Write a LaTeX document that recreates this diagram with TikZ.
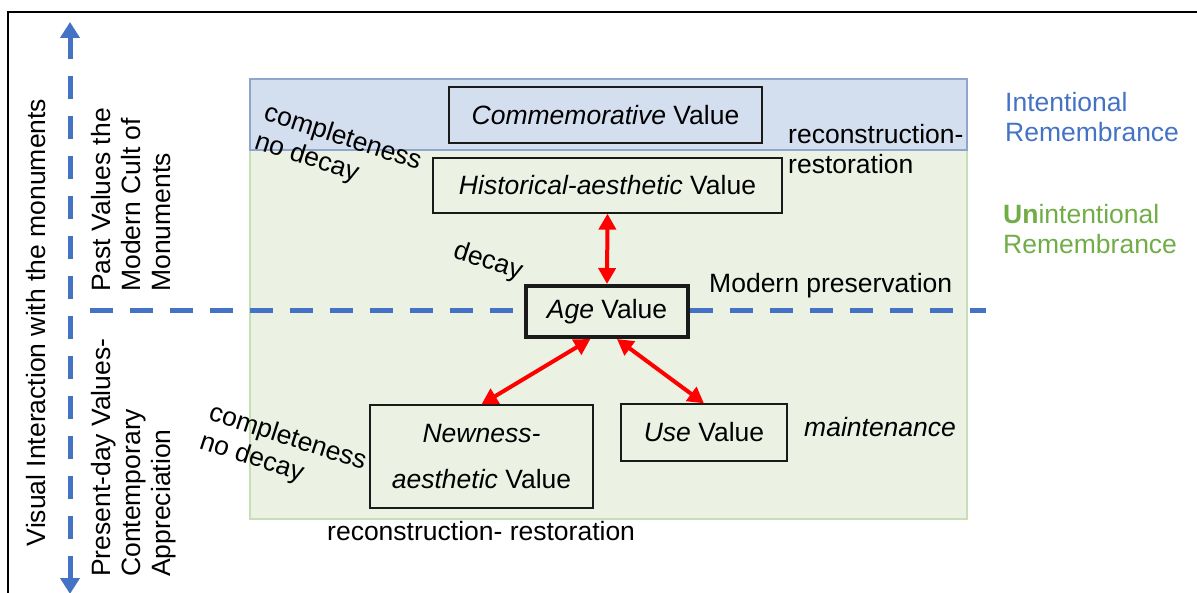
\documentclass[tikz,border=0pt]{standalone}
\usepackage{fontspec}
\setmainfont{Liberation Sans}
\usetikzlibrary{arrows.meta,calc}
\definecolor{ublue}{HTML}{4472C4}
\definecolor{ugreen}{HTML}{70AD47}
\definecolor{bfill}{HTML}{D3DEEF}
\definecolor{bline}{HTML}{8EA6CB}
\definecolor{gfill}{HTML}{EBF2E4}
\definecolor{gline}{HTML}{C6DFB4}
\definecolor{boxline}{HTML}{1A1A1A}
\tikzset{
  bluedash/.style={draw=ublue, line width=5pt, dash pattern=on 23pt off 17pt},
  valbox/.style={draw=boxline, line width=1.3pt, inner sep=0pt, align=center},
  redarrow/.style={draw=red, line width=4pt, {Triangle[length=16pt,width=17pt]}-{Triangle[length=16pt,width=17pt]}},
  lbl/.style={inner sep=0pt, align=left},
}
\begin{document}
\begin{tikzpicture}[x=1pt,y=-1pt, font=\fontsize{26.5}{30}\selectfont]
\useasboundingbox (0,0) rectangle (1197,593);
% frame
\draw[line width=1.2pt] (8,593) -- (8,12) -- (1197,12);
% regions
\fill[gfill] (250,150) rectangle (967,519);
\draw[gline, line width=2pt] (250,150) rectangle (967,519);
\fill[bfill] (250,79) rectangle (967,150);
\draw[bline, line width=1.5pt] (250,79) rectangle (967,150);
% axes
\coordinate (vtop) at (70,22);
\coordinate (vbot) at (70,594);
\coordinate (hl) at (90,311);
\coordinate (hr) at (986,311);
\draw[bluedash, {Triangle[length=16pt,width=19pt]}-{Triangle[length=16pt,width=19pt]}] (vbot) -- (vtop);
\draw[bluedash] (hl) -- (hr);
% value boxes
\node[valbox, fill=bfill, minimum width=313pt, minimum height=56pt] (comm) at (605.5,115) {\textit{Commemorative} Value};
\node[valbox, fill=gfill, minimum width=349pt, minimum height=55pt] (hist) at (607.5,185.5) {\textit{Historical-aesthetic} Value};
\node[valbox, fill=gfill, line width=4pt, minimum width=162pt, minimum height=51pt] (age) at (607,311.5) {\textit{Age} Value};
\node[valbox, fill=gfill, minimum width=223pt, minimum height=103pt, font=\fontsize{26.5}{46}\selectfont] (new) at (481.5,456.5) {\textit{Newness-}\\\textit{aesthetic} Value};
\node[valbox, fill=gfill, minimum width=166pt, minimum height=57pt] (use) at (704,432.5) {\textit{Use} Value};
% red arrows
\draw[redarrow] (hist.south) -- (age.north);
\draw[redarrow] ($(age.south west)!0.4!(age.south east)$) -- (new.north);
\draw[redarrow] ($(age.south west)!0.56!(age.south east)$) -- (use.north);
% side labels
\node[lbl, rotate=90] (visual) at (36,322.5) {Visual Interaction with the monuments};
\node[lbl, rotate=90, anchor=north west] (past) at (91,292) {Past Values the\\Modern Cult of\\Monuments};
\node[lbl, rotate=90, anchor=north west] (present) at (91,577) {Present-day Values-\\Contemporary\\Appreciation};
% rotated labels
\node[lbl, rotate=-18, anchor=north west] (comp1) at (268.5,101) {completeness\\no decay};
\node[lbl, rotate=-18, anchor=north west] (comp2) at (213.5,401) {completeness\\no decay};
\node[lbl, rotate=-18, anchor=north west] (decay) at (458,239) {decay};
% other labels
\node[lbl, anchor=north west] (recon1) at (788,124) {reconstruction-\\restoration};
\node[lbl, anchor=north west, text=ublue] (intent) at (1005,92) {Intentional\\Remembrance};
\node[lbl, anchor=north west, text=ugreen] (unintent) at (1003,204) {{\bfseries Un}intentional\\Remembrance};
\node[lbl, anchor=base west] (modern) at (709,293) {Modern preservation};
\node[lbl, anchor=base west] (maint) at (804,437) {\textit{maintenance}};
\node[lbl, anchor=base west] (recon2) at (327,540) {reconstruction- restoration};
\end{tikzpicture}
\end{document}
